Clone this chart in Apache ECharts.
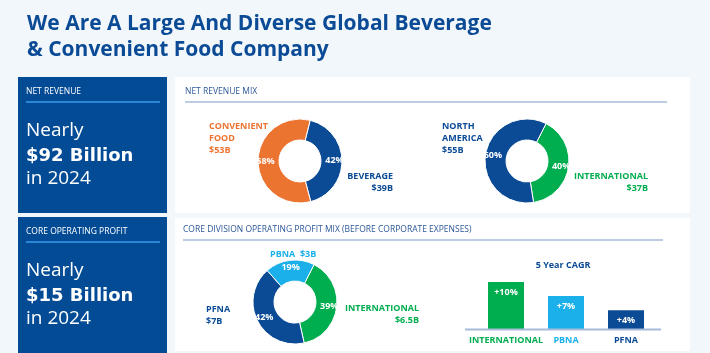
<!DOCTYPE html>
<html lang="en">
<head>
    <meta charset="UTF-8">
    <title>Beverage & Food</title>
    <style>
        html, body { margin: 0; padding: 0; background: #f2f7fc; }
        #box { width: 710px; height: 353px; }
    </style>
</head>
<body>
    <div id="box"></div>
    <script src="https://cdn.jsdelivr.net/npm/echarts@6/dist/echarts.min.js"></script>
    <script>
        var FONT = '"Open Sans", sans-serif';
        var WIDE = '"DejaVu Sans", sans-serif';
        var DARK = '#0b4b95';
        var ORANGE = '#ec7431';
        var GREEN = '#00ad4f';
        var LIGHT = '#1bb0ea';

        // net revenue mix
        var revNames = ['BEVERAGE', 'CONVENIENT FOOD'];
        var revPct = [42, 58];
        var revAmount = ['$39B', '$53B'];

        // region mix
        var regionNames = ['INTERNATIONAL', 'NORTH AMERICA'];
        var regionPct = [40, 60];
        var regionAmount = ['$37B', '$55B'];

        // core division operating profit mix
        var divNames = ['INTERNATIONAL', 'PFNA', 'PBNA'];
        var divPct = [39, 42, 19];
        var divAmount = ['$6.5B', '$7B', '$3B'];

        // 5 year CAGR
        var cagrCats = ['INTERNATIONAL', 'PBNA', 'PFNA'];
        var cagrVals = [10, 7, 4];

        var headlines = [
            { label: 'NET REVENUE', amount: '$92 Billion', year: 'in 2024' },
            { label: 'CORE OPERATING PROFIT', amount: '$15 Billion', year: 'in 2024' }
        ];

        var myChart = echarts.init(document.getElementById('box'));

        function txt(x, y, text, color, size, weight, align, family) {
            return {
                type: 'text', x: x, y: y, z: 10,
                style: {
                    text: text, fill: color,
                    font: (weight || 'normal') + ' ' + size + 'px ' + (family || FONT),
                    align: align || 'left', verticalAlign: 'middle', lineHeight: size + 3
                }
            };
        }

        var graphics = [];
        // left blue panels
        [77, 217].forEach(function (top, i) {
            var h = headlines[i];
            graphics.push({ type: 'rect', shape: { x: 18, y: top, width: 149, height: 136 }, style: { fill: '#034b94' } });
            graphics.push(txt(26, top + 15, h.label, '#ffffff', 8.5));
            graphics.push({ type: 'line', shape: { x1: 26, y1: top + 25, x2: 160, y2: top + 25 }, style: { stroke: '#2a86d6', lineWidth: 2 } });
            graphics.push(txt(26, top + 54, 'Nearly', '#ffffff', 19));
            graphics.push(txt(26, top + 79, h.amount, '#ffffff', 18, 'bold', 'left', WIDE));
            graphics.push(txt(26, top + 102, h.year, '#ffffff', 19));
        });
        // white cards
        graphics.push({ type: 'rect', z: -1, shape: { x: 175, y: 77, width: 515, height: 136 }, style: { fill: '#ffffff' } });
        graphics.push({ type: 'rect', z: -1, shape: { x: 175, y: 218, width: 515, height: 133 }, style: { fill: '#ffffff' } });
        graphics.push(txt(185, 92, 'NET REVENUE MIX', '#2c5898', 8.5));
        graphics.push({ type: 'line', shape: { x1: 185, y1: 102, x2: 667, y2: 102 }, style: { stroke: '#a6bcda', lineWidth: 1.5 } });
        graphics.push(txt(183, 230, 'CORE DIVISION OPERATING PROFIT MIX (BEFORE CORPORATE EXPENSES)', '#2c5898', 8.5));
        graphics.push({ type: 'line', shape: { x1: 183, y1: 240, x2: 663, y2: 240 }, style: { stroke: '#a6bcda', lineWidth: 1.5 } });

        // donut side labels
        graphics.push(txt(209, 138, revNames[1].replace(' ', '\n') + '\n' + revAmount[1], ORANGE, 9, 'bold'));
        graphics.push(txt(393, 182, revNames[0] + '\n' + revAmount[0], DARK, 9, 'bold', 'right'));
        graphics.push(txt(442, 138, regionNames[1].replace(' ', '\n') + '\n' + regionAmount[1], DARK, 9, 'bold'));
        graphics.push(txt(648, 182, regionNames[0] + '\n' + regionAmount[0], GREEN, 9, 'bold', 'right'));
        graphics.push(txt(270, 254, divNames[2] + '  ' + divAmount[2], LIGHT, 9, 'bold'));
        graphics.push(txt(206, 315, divNames[1] + '\n' + divAmount[1], DARK, 9, 'bold'));
        graphics.push(txt(419, 314, divNames[0] + '\n' + divAmount[0], GREEN, 9, 'bold', 'right'));

        // bar baseline and heading
        graphics.push(txt(563, 265, '5 Year CAGR', DARK, 9, 'bold', 'center'));
        graphics.push({ type: 'line', z: 10, shape: { x1: 465, y1: 329.5, x2: 661, y2: 329.5 }, style: { stroke: '#a6bcda', lineWidth: 2 } });

        function donut(center, startAngle, names, values, colors) {
            return {
                type: 'pie',
                center: center,
                radius: [21, 42],
                startAngle: startAngle,
                clockwise: true,
                silent: true,
                itemStyle: { borderColor: '#ffffff', borderWidth: 1 },
                label: {
                    position: 'inside', formatter: '{c}%', color: '#ffffff',
                    fontFamily: FONT, fontWeight: 'bold', fontSize: 9
                },
                labelLine: { show: false },
                data: names.map(function (n, i) {
                    return { name: n, value: values[i], itemStyle: { color: colors[i] } };
                })
            };
        }

        var barColors = [GREEN, LIGHT, DARK];

        var option = {
            animation: false,
            title: {
                text: 'We Are A Large And Diverse Global Beverage\n& Convenient Food Company',
                left: 22, top: 6,
                textStyle: { color: DARK, fontFamily: FONT, fontWeight: 'bold', fontSize: 21, lineHeight: 26 }
            },
            graphic: graphics,
            grid: { left: 476, width: 180, top: 282, height: 47 },
            xAxis: {
                type: 'category',
                data: cagrCats,
                axisLine: { show: false },
                axisTick: { show: false },
                axisLabel: {
                    interval: 0,
                    margin: 7,
                    formatter: function (v, i) { return '{c' + i + '|' + v + '}'; },
                    rich: {
                        c0: { color: GREEN, fontFamily: FONT, fontWeight: 'bold', fontSize: 9 },
                        c1: { color: LIGHT, fontFamily: FONT, fontWeight: 'bold', fontSize: 9 },
                        c2: { color: DARK, fontFamily: FONT, fontWeight: 'bold', fontSize: 9 }
                    }
                }
            },
            yAxis: { type: 'value', min: 0, max: 10, show: false },
            series: [
                donut([300, 161], 76, revNames, revPct, [DARK, ORANGE]),
                donut([527, 161], 63, regionNames, regionPct, [GREEN, DARK]),
                donut([295, 302], 63, divNames, divPct, [GREEN, DARK, LIGHT]),
                {
                    type: 'bar',
                    barWidth: 36,
                    silent: true,
                    label: {
                        show: true, position: 'insideTop', distance: 6,
                        formatter: '+{c}%', color: '#ffffff',
                        fontFamily: FONT, fontWeight: 'bold', fontSize: 9
                    },
                    data: cagrVals.map(function (v, i) {
                        return { value: v, itemStyle: { color: barColors[i] } };
                    })
                }
            ]
        };
        myChart.setOption(option);
    </script>
</body>
</html>
